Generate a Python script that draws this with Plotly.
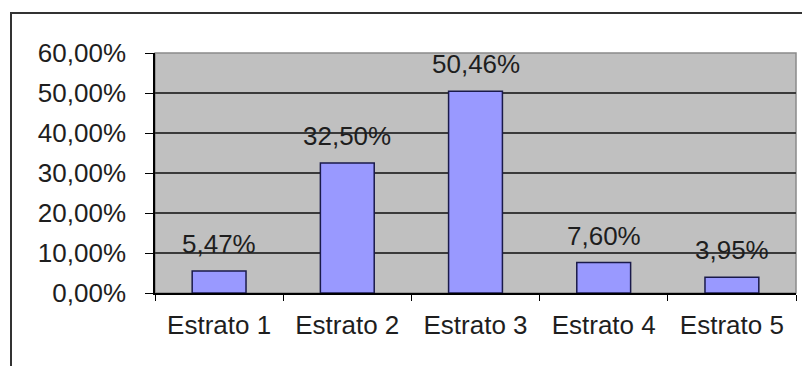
import plotly.graph_objects as go

# Share of each stratum
categories = ["Estrato 1", "Estrato 2", "Estrato 3", "Estrato 4", "Estrato 5"]
shares = [0.0547, 0.3250, 0.5046, 0.0760, 0.0395]
y_ticks = [0.0, 0.1, 0.2, 0.3, 0.4, 0.5, 0.6]

FONT = "Liberation Sans, Arial, sans-serif"
TEXT_COLOR = "#1e1e1e"


def pct(v):
    return f"{v * 100:.2f}%".replace(".", ",")


fig = go.Figure(
    go.Bar(
        x=categories,
        y=shares,
        width=0.42,
        marker=dict(color="#9999FF", line=dict(color="#1a1a4a", width=1.5)),
        hoverinfo="skip",
    )
)

# Value labels floating above each bar
for cat, val in zip(categories, shares):
    fig.add_annotation(
        x=cat, y=val, text=pct(val), showarrow=False,
        yanchor="bottom", yshift=10,
        font=dict(family=FONT, size=26, color=TEXT_COLOR),
    )

W, H = 802, 366
L, R, T, B = 155, 6, 53, 73
pw, ph = W - L - R, H - T - B


def px_x(x):
    return (x - L) / pw


def px_y(y):
    return (H - B - y) / ph


shapes = [
    # gray frame around plot area
    dict(type="rect", xref="paper", yref="paper", x0=0, x1=1, y0=0, y1=1,
         line=dict(color="#8a8a8a", width=1.5), layer="below"),
    # outer chart border
    dict(type="rect", xref="paper", yref="paper",
         x0=px_x(11), x1=px_x(820), y0=px_y(380), y1=px_y(13),
         line=dict(color="#333333", width=2), layer="above"),
]

fig.update_layout(
    width=W, height=H,
    margin=dict(l=L, r=R, t=T, b=B, pad=0),
    paper_bgcolor="white",
    plot_bgcolor="#C0C0C0",
    separators=",.",
    showlegend=False,
    shapes=shapes,
    font=dict(family=FONT, size=26, color=TEXT_COLOR),
    xaxis=dict(
        type="category",
        showgrid=False,
        showline=True, linecolor="#000000", linewidth=1.5,
        ticks="outside", tickson="boundaries", ticklen=6, tickcolor="#000000",
        tickfont=dict(family=FONT, size=26, color=TEXT_COLOR),
        ticklabelstandoff=8,
        range=[-0.5, 4.5],
        fixedrange=True,
    ),
    yaxis=dict(
        range=[0, 0.6],
        tickvals=y_ticks,
        tickformat=".2%",
        showgrid=True, gridcolor="#3a3a3a", gridwidth=1.5,
        showline=True, linecolor="#000000", linewidth=1.5,
        ticks="outside", ticklen=8, tickcolor="#000000",
        tickfont=dict(family=FONT, size=26, color=TEXT_COLOR),
        ticklabelstandoff=14,
        zeroline=False,
        fixedrange=True,
    ),
)

fig.write_html("out.html", config={"displayModeBar": False})
